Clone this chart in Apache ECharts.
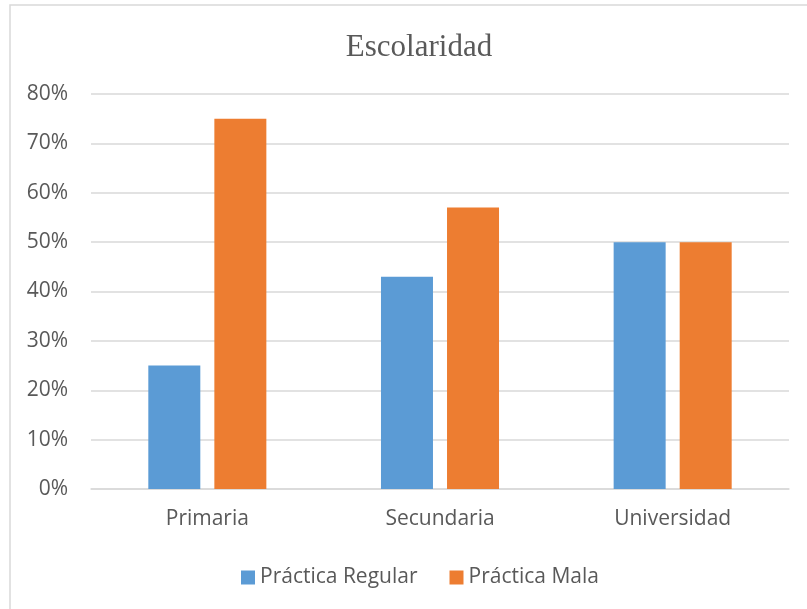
<!DOCTYPE html>
<html>
<head>
<meta charset="utf-8">
<script src="https://cdn.jsdelivr.net/npm/echarts@6/dist/echarts.min.js"></script>
<style>
  html, body { margin: 0; padding: 0; background: #fff; }
  #chart { width: 807px; height: 609px; }
</style>
</head>
<body>
<div id="chart"></div>
<script>
// Education level categories and shares (percent)
const categories = ['Primaria', 'Secundaria', 'Universidad'];
const seriesNames = ['Práctica Regular', 'Práctica Mala'];
const practicaRegular = [25, 43, 50];
const practicaMala = [75, 57, 50];
const yTicks = [0, 10, 20, 30, 40, 50, 60, 70, 80];

const textColor = '#595959';
const sansFont = '"Open Sans", "Noto Sans", sans-serif';

const chart = echarts.init(document.getElementById('chart'), null, { renderer: 'canvas' });

chart.setOption({
  animation: false,
  backgroundColor: '#ffffff',
  color: ['#5B9BD5', '#ED7D31'],
  title: {
    text: 'Escolaridad',
    left: 414,
    textAlign: 'center',
    top: 27,
    textStyle: {
      fontFamily: '"Liberation Serif", "Times New Roman", serif',
      fontWeight: 'normal',
      fontSize: 31,
      color: textColor
    }
  },
  graphic: [{
    type: 'rect',
    silent: true,
    shape: { x: 10, y: 5, width: 900, height: 700 },
    style: { fill: 'none', stroke: '#D9D9D9', lineWidth: 1.5 }
  }],
  legend: {
    data: seriesNames,
    left: 236,
    top: 562,
    itemWidth: 14,
    itemHeight: 14,
    itemGap: 32,
    icon: 'rect',
    textStyle: { fontFamily: sansFont, fontSize: 21, color: textColor, padding: [0, 0, 0, 0] }
  },
  grid: { left: 91, right: 18, top: 94, bottom: 120, containLabel: false },
  xAxis: {
    type: 'category',
    data: categories,
    axisLine: { show: true, lineStyle: { color: '#D9D9D9', width: 1.5 } },
    axisTick: { show: false },
    axisLabel: { margin: 20, fontFamily: sansFont, fontSize: 21, color: textColor }
  },
  yAxis: {
    type: 'value',
    min: yTicks[0],
    max: yTicks[yTicks.length - 1],
    interval: 10,
    axisLine: { show: false },
    axisTick: { show: false },
    splitLine: { lineStyle: { color: '#D9D9D9', width: 1.5 } },
    axisLabel: {
      margin: 23,
      fontFamily: sansFont,
      fontSize: 21,
      color: textColor,
      formatter: v => v + '%'
    }
  },
  series: [
    {
      name: seriesNames[0],
      type: 'bar',
      data: practicaRegular,
      barWidth: 52,
      barGap: '27%'
    },
    {
      name: seriesNames[1],
      type: 'bar',
      data: practicaMala,
      barWidth: 52,
      barGap: '27%'
    }
  ]
});
</script>
</body>
</html>
